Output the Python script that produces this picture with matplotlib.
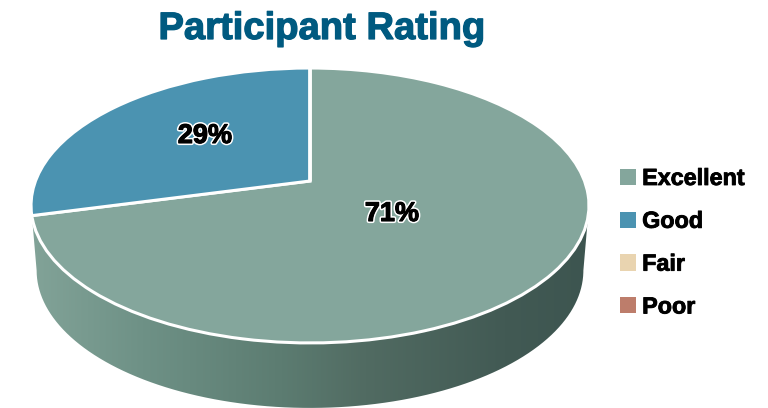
import numpy as np
import matplotlib
matplotlib.use("Agg")
import matplotlib.pyplot as plt
import matplotlib.patheffects as pe
from matplotlib.colors import LinearSegmentedColormap
from matplotlib.path import Path
from matplotlib.patches import PathPatch
from matplotlib.transforms import Transform

categories = ["Excellent", "Good", "Fair", "Poor"]
values = [71, 29, 0, 0]
colors = ["#84a69c", "#4b93b1", "#e9d4b0", "#bd7d6b"]

plt.rcParams['font.family'] = ['Liberation Sans', 'DejaVu Sans']


class Perspective(Transform):
    # tilted circle: unit pie -> figure pixels
    input_dims = 2
    output_dims = 2

    def __init__(self, shrink=1.0, drop=0.0):
        super().__init__()
        self.shrink = shrink
        self.drop = drop

    def transform_non_affine(self, xy):
        xy = np.asarray(xy, dtype=float)
        d = 1 + 0.178 * xy[:, 1]
        return np.column_stack([310 + self.shrink * 274.5 * xy[:, 0] / d,
                                181 - 133.1 * xy[:, 1] / d + self.drop])


fig = plt.figure(figsize=(7.68, 4.08), dpi=100)
ax = fig.add_axes([0, 0, 1, 1])

wedges, _ = ax.pie(values, colors=colors, startangle=90, counterclock=False,
                   wedgeprops=dict(edgecolor='white', linewidth=2.2))
ax.set_aspect('auto')
for w in wedges:
    w.set_transform(Perspective() + ax.transData)
    w.set_clip_on(False)
    w.set_zorder(3)

# side wall of the disc, gradient clipped to the outline of the two rims
t = np.linspace(np.pi + 0.179, 2 * np.pi - 0.179, 200)
circle = np.column_stack([np.cos(t), np.sin(t)])
lower = Perspective(shrink=0.98, drop=65).transform(circle)
upper = Perspective().transform(circle[::-1])
wall = Path(np.vstack([lower, upper]))
cmap = LinearSegmentedColormap.from_list("wall", [
    (0.00, "#82a398"), (0.20, "#6e9186"), (0.45, "#5c7c71"),
    (0.60, "#516b62"), (0.85, "#425a54"), (1.00, "#3d5550")])
img = ax.imshow(np.linspace(0, 1, 256)[None, :], cmap=cmap, aspect='auto',
                extent=(31, 589, 408, 180), zorder=1)
clip = PathPatch(wall, transform=ax.transData, facecolor='none', edgecolor='none')
ax.add_patch(clip)
img.set_clip_path(clip)

ax.set_xlim(0, 768)
ax.set_ylim(408, 0)
ax.set_axis_off()

ax.text(322, 29, "Participant Rating", color="#005a80", fontsize=27.5,
        fontweight='bold', ha='center', va='center',
        path_effects=[pe.withStroke(linewidth=0.9, foreground="#005a80")])

outline = [pe.withStroke(linewidth=3.0, foreground='white'),
           pe.withStroke(linewidth=0.8, foreground='black')]
ax.text(392, 214, f"{values[0]}%", fontsize=19.5, fontweight='bold', color='black',
        ha='center', va='center', zorder=5, path_effects=outline)
ax.text(205, 136, f"{values[1]}%", fontsize=19.5, fontweight='bold', color='black',
        ha='center', va='center', zorder=5, path_effects=outline)

handles = [plt.Rectangle((0, 0), 1, 1, facecolor=c) for c in colors]
leg = ax.legend(handles, categories, loc='upper left',
                bbox_to_anchor=(620 / 768, 1 - 167 / 408),
                frameon=False, prop=dict(weight='bold', size=16.8),
                handlelength=0.68, handleheight=0.68, handletextpad=0.27,
                labelspacing=0.85, borderpad=0, borderaxespad=0)
for txt in leg.get_texts():
    txt.set_path_effects([pe.withStroke(linewidth=0.6, foreground='black')])

fig.savefig("out.png", dpi=100)
